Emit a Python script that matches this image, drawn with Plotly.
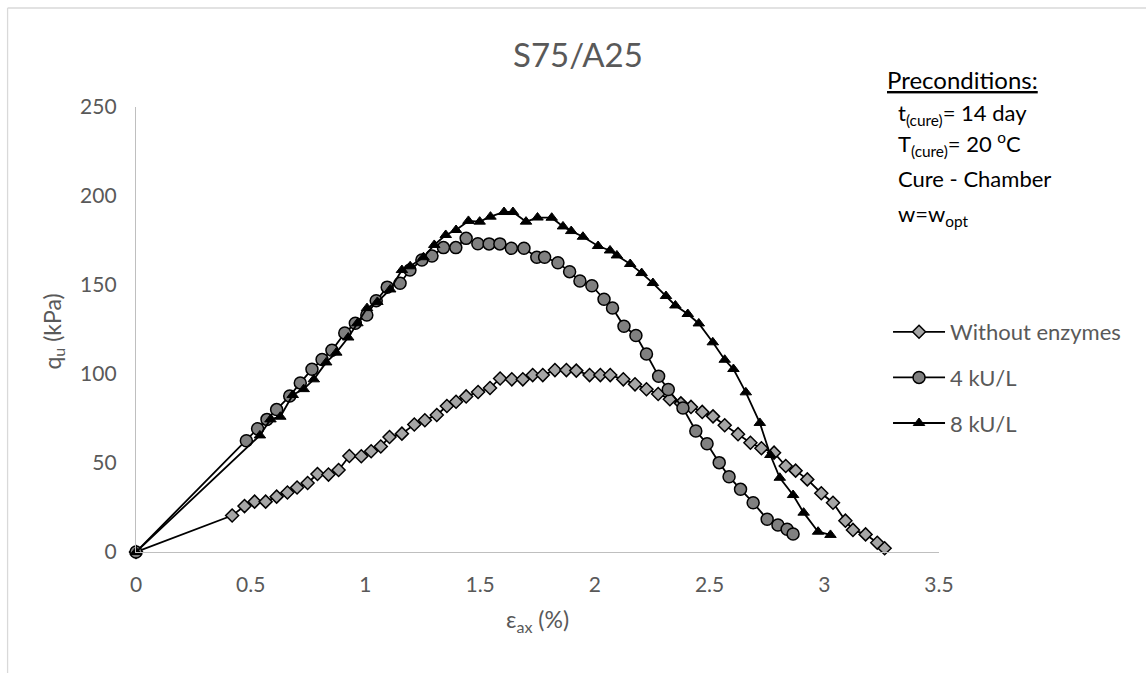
import plotly.graph_objects as go

# Axial strain (%) and unconfined compressive strength q_u (kPa) per mixture
strain_none = [0, 0.419, 0.473, 0.517, 0.565, 0.613, 0.660, 0.702, 0.748, 0.791, 0.839, 0.883,
               0.930, 0.982, 1.025, 1.067, 1.105, 1.159, 1.213, 1.259, 1.311, 1.355, 1.395,
               1.439, 1.491, 1.543, 1.587, 1.638, 1.686, 1.729, 1.773, 1.826, 1.876, 1.919,
               1.977, 2.024, 2.067, 2.124, 2.175, 2.225, 2.276, 2.327, 2.375, 2.419, 2.468,
               2.515, 2.566, 2.624, 2.678, 2.726, 2.781, 2.832, 2.875, 2.926, 2.987, 3.038,
               3.092, 3.125, 3.180, 3.231, 3.263]
qu_none = [0, 20.5, 25.8, 28.3, 28.3, 31.1, 33.4, 36.2, 38.8, 43.8, 43.5, 46.1,
           53.9, 53.8, 56.6, 59.3, 64.6, 66.5, 71.6, 74.0, 77.0, 82.0, 84.4,
           87.4, 89.9, 92.1, 97.5, 97.0, 97.0, 99.4, 99.4, 102.2, 102.2, 101.9,
           99.4, 99.4, 99.4, 97.0, 94.2, 91.4, 88.8, 85.8, 83.5, 81.5, 78.7,
           76.2, 71.2, 66.2, 61.4, 58.3, 55.8, 48.3, 45.7, 40.8, 33.0, 27.7,
           17.6, 12.4, 9.9, 5.2, 2.1]

strain_4 = [0, 0.481, 0.530, 0.571, 0.613, 0.670, 0.716, 0.767, 0.811, 0.854, 0.910, 0.956,
            1.006, 1.047, 1.095, 1.151, 1.194, 1.246, 1.290, 1.340, 1.394, 1.439, 1.490,
            1.539, 1.586, 1.636, 1.691, 1.747, 1.781, 1.839, 1.890, 1.935, 1.987, 2.040,
            2.077, 2.127, 2.179, 2.225, 2.278, 2.320, 2.384, 2.440, 2.489, 2.542, 2.585,
            2.635, 2.690, 2.751, 2.798, 2.838, 2.864]
qu_4 = [0, 62.5, 69.2, 74.5, 80.0, 87.6, 95.0, 102.7, 108.1, 113.3, 123.0, 128.5,
        133.1, 141.2, 148.8, 151.0, 158.4, 164.0, 166.3, 171.0, 171.0, 176.2, 173.2,
        173.1, 173.1, 170.6, 170.6, 165.6, 165.6, 162.5, 157.5, 152.2, 149.6, 142.0,
        137.1, 126.8, 121.6, 111.2, 98.7, 91.3, 80.9, 68.0, 60.8, 50.2, 42.3,
        35.2, 27.7, 18.4, 15.2, 12.8, 10.1]

strain_8 = [0, 0.540, 0.586, 0.629, 0.683, 0.731, 0.775, 0.829, 0.873, 0.925, 0.965, 1.007,
            1.052, 1.108, 1.159, 1.195, 1.253, 1.300, 1.350, 1.395, 1.449, 1.498, 1.545,
            1.604, 1.643, 1.700, 1.750, 1.812, 1.861, 1.897, 1.948, 2.014, 2.066, 2.096,
            2.154, 2.204, 2.253, 2.310, 2.351, 2.405, 2.453, 2.514, 2.566, 2.604, 2.658,
            2.719, 2.765, 2.806, 2.864, 2.910, 2.973, 3.027]
qu_8 = [0, 65.5, 74.5, 76.0, 88.2, 91.5, 97.0, 106.5, 112.0, 120.5, 128.5, 137.0,
        140.5, 147.5, 158.4, 160.5, 165.6, 172.5, 178.1, 180.9, 186.0, 185.6, 188.4,
        191.0, 191.0, 185.6, 187.9, 187.8, 182.9, 180.3, 177.1, 171.9, 169.4, 166.6,
        161.8, 156.7, 151.1, 143.8, 138.5, 133.7, 128.4, 117.8, 108.0, 102.8, 89.7,
        72.5, 54.5, 41.7, 32.0, 22.1, 11.4, 9.6]

series_names = ["Without enzymes", "4 kU/L", "8 kU/L"]
x_ticks = [0, 0.5, 1, 1.5, 2, 2.5, 3, 3.5]
y_ticks = [0, 50, 100, 150, 200, 250]

W, H = 1146, 673
L, R, T, B = 135.5, 939, 107, 552  # plot-area edges in pixels


def px_x(px):
    return (px - L) / (R - L)


def px_y(py):
    return (B - py) / (B - T)


FONT = "Lato"
GREY = "#595959"
line_style = dict(color="black", width=1.8)

fig = go.Figure()
fig.add_trace(go.Scatter(
    x=strain_none, y=qu_none, mode="lines+markers", name=series_names[0],
    line=line_style, legendgroup="g1", cliponaxis=False,
    marker=dict(symbol="diamond", size=10, color="#a6a6a6",
                line=dict(color="black", width=1.5))))
fig.add_trace(go.Scatter(
    x=strain_4, y=qu_4, mode="lines+markers", name=series_names[1],
    line=line_style, legendgroup="g2", cliponaxis=False,
    marker=dict(symbol="circle", size=12, color="#808080",
                line=dict(color="black", width=1.5))))
fig.add_trace(go.Scatter(
    x=strain_8, y=qu_8, mode="lines+markers", name=series_names[2],
    line=line_style, legendgroup="g3", cliponaxis=False,
    marker=dict(symbol="triangle-up", size=10, color="black",
                line=dict(color="black", width=1))))

axis_common = dict(showgrid=False, zeroline=False, showline=True, linecolor="#bfbfbf",
                   linewidth=1.3, ticks="", tickfont=dict(family=FONT, size=21, color=GREY))

annotations = [
    dict(text="S75/A25", x=px_x(578), y=px_y(54), font=dict(size=33, color=GREY)),
    dict(text="ε<sub>ax</sub> (%)", x=px_x(537), y=px_y(620), font=dict(size=23, color=GREY)),
    dict(text="q<sub>u</sub> (kPa)", x=px_x(52), y=px_y(332), textangle=-90,
         font=dict(size=23, color=GREY)),
    dict(text="<u>Preconditions:</u>", x=px_x(885), y=px_y(79), xanchor="left",
         font=dict(size=24, color="black")),
    dict(text="t<sub>(cure)</sub>= 14 day", x=px_x(896), y=px_y(114), xanchor="left",
         font=dict(size=22, color="black")),
    dict(text="T<sub>(cure)</sub>= 20 <sup>o</sup>C", x=px_x(896), y=px_y(144), xanchor="left",
         font=dict(size=22, color="black")),
    dict(text="Cure - Chamber", x=px_x(896), y=px_y(178), xanchor="left",
         font=dict(size=22, color="black")),
    dict(text="w=w<sub>opt</sub>", x=px_x(896), y=px_y(215), xanchor="left",
         font=dict(size=22, color="black")),
]
for a in annotations:
    a.update(xref="paper", yref="paper", showarrow=False, yanchor="middle")
    a.setdefault("xanchor", "center")
    a["font"]["family"] = FONT

# outer chart border (top and left edges visible)
shapes = [
    dict(type="line", xref="paper", yref="paper", x0=px_x(7), x1=px_x(W + 5),
         y0=px_y(8), y1=px_y(8), line=dict(color="#d9d9d9", width=1.3)),
    dict(type="line", xref="paper", yref="paper", x0=px_x(7), x1=px_x(7),
         y0=px_y(8), y1=px_y(H + 5), line=dict(color="#d9d9d9", width=1.3)),
]

fig.update_layout(
    width=W, height=H, autosize=False,
    margin=dict(l=L, r=W - R, t=T, b=H - B, pad=0),
    plot_bgcolor="white", paper_bgcolor="white",
    font=dict(family=FONT, color=GREY),
    xaxis=dict(range=[0, 3.5], tickvals=x_ticks, ticklabelstandoff=14, **axis_common),
    yaxis=dict(range=[0, 250], tickvals=y_ticks, ticklabelstandoff=14, **axis_common),
    showlegend=True,
    legend=dict(x=px_x(888), y=px_y(311), xanchor="left", yanchor="top",
                font=dict(family=FONT, size=22, color=GREY), tracegroupgap=14,
                bgcolor="rgba(0,0,0,0)", itemwidth=52),
    annotations=annotations,
    shapes=shapes,
)

fig.write_html("out.html")
